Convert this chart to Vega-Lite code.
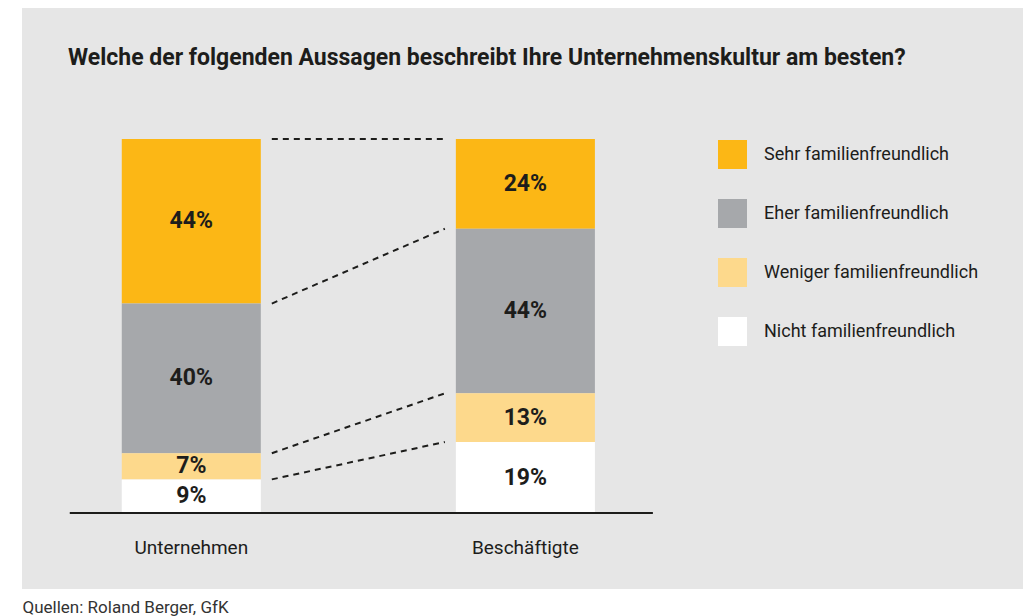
{
  "$schema": "https://vega.github.io/schema/vega-lite/v6.json",
  "width": 1001,
  "height": 581,
  "autosize": {"type": "none"},
  "padding": {"left": 22, "top": 8, "right": 0, "bottom": 27},
  "background": "#ffffff",
  "config": {"view": {"fill": "#e6e6e6", "stroke": null}, "font": "Roboto"},
  "title": {
    "text": "Welche der folgenden Aussagen beschreibt Ihre Unternehmenskultur am besten?",
    "anchor": "start",
    "frame": "group",
    "offset": 0,
    "dx": 46,
    "dy": 80,
    "baseline": "alphabetic",
    "fontSize": 23,
    "fontWeight": "bold",
    "font": "Roboto",
    "color": "#1d1d1b"
  },
  "datasets": {
    "shares": [
      {"group": "Unternehmen", "category": "Sehr familienfreundlich", "rank": 1, "value": 44},
      {"group": "Unternehmen", "category": "Eher familienfreundlich", "rank": 2, "value": 40},
      {"group": "Unternehmen", "category": "Weniger familienfreundlich", "rank": 3, "value": 7},
      {"group": "Unternehmen", "category": "Nicht familienfreundlich", "rank": 4, "value": 9},
      {"group": "Beschäftigte", "category": "Sehr familienfreundlich", "rank": 1, "value": 24},
      {"group": "Beschäftigte", "category": "Eher familienfreundlich", "rank": 2, "value": 44},
      {"group": "Beschäftigte", "category": "Weniger familienfreundlich", "rank": 3, "value": 13},
      {"group": "Beschäftigte", "category": "Nicht familienfreundlich", "rank": 4, "value": 19}
    ],
    "links": [
      {"from": "Unternehmen", "to": "Beschäftigte", "a": 100, "b": 100},
      {"from": "Unternehmen", "to": "Beschäftigte", "a": 56, "b": 76},
      {"from": "Unternehmen", "to": "Beschäftigte", "a": 16, "b": 32},
      {"from": "Unternehmen", "to": "Beschäftigte", "a": 9, "b": 19}
    ],
    "base": [
      {"from": "Unternehmen", "to": "Beschäftigte", "v": 0}
    ]
  },
  "layer": [
    {
      "data": {"name": "shares"},
      "transform": [
        {"stack": "value", "groupby": ["group"], "sort": [{"field": "rank", "order": "descending"}], "as": ["y0", "y1"]}
      ],
      "mark": {"type": "bar"},
      "encoding": {
        "x": {
          "field": "group",
          "type": "nominal",
          "sort": ["Unternehmen", "Beschäftigte"],
          "scale": {"domain": ["Unternehmen", "Beschäftigte"], "paddingInner": 0.5838, "paddingOuter": 0.79, "align": 0.189},
          "axis": {
            "title": "Quellen: Roland Berger, GfK",
            "titleAnchor": "start",
            "titleAlign": "left",
            "titleX": 0,
            "titleY": 18,
            "titleBaseline": "middle",
            "titleFontSize": 17,
            "titleFontWeight": "normal",
            "titleColor": "#333333",
            "titleFont": "Roboto",
            "domain": false,
            "ticks": false,
            "tickSize": 0,
            "grid": false,
            "labelPadding": -42,
            "labelBaseline": "middle",
            "labelAngle": 0,
            "labelFontSize": 19,
            "labelFont": "Roboto",
            "labelColor": "#1d1d1b"
          }
        },
        "y": {"field": "y0", "type": "quantitative", "scale": {"domain": [-20.3, 135], "nice": false, "zero": false}, "axis": null},
        "y2": {"field": "y1"},
        "color": {
          "field": "category",
          "type": "nominal",
          "scale": {
            "domain": ["Sehr familienfreundlich", "Eher familienfreundlich", "Weniger familienfreundlich", "Nicht familienfreundlich"],
            "range": ["#fcb715", "#a6a8ab", "#fdd98c", "#ffffff"]
          },
          "legend": {
            "title": null,
            "orient": "none",
            "legendX": 696,
            "legendY": 132,
            "padding": 0,
            "symbolType": "square",
            "symbolSize": 841,
            "symbolStrokeWidth": 0,
            "symbolOpacity": 1,
            "labelFontSize": 18,
            "labelFont": "Roboto",
            "labelColor": "#1d1d1b",
            "labelOffset": 17,
            "labelLimit": 0,
            "rowPadding": 30
          }
        }
      }
    },
    {
      "data": {"name": "shares"},
      "transform": [
        {"stack": "value", "groupby": ["group"], "sort": [{"field": "rank", "order": "descending"}], "as": ["y0", "y1"]},
        {"calculate": "(datum.y0 + datum.y1) / 2", "as": "mid"},
        {"calculate": "datum.value + '%'", "as": "label"}
      ],
      "mark": {"type": "text", "fontSize": 23, "fontWeight": "bold", "font": "Roboto", "color": "#1d1d1b", "baseline": "middle", "align": "center"},
      "encoding": {
        "x": {"field": "group", "type": "nominal", "sort": ["Unternehmen", "Beschäftigte"]},
        "y": {"field": "mid", "type": "quantitative", "axis": null},
        "text": {"field": "label", "type": "nominal"}
      }
    },
    {
      "data": {"name": "links"},
      "mark": {"type": "rule", "strokeDash": [6, 5], "strokeWidth": 2, "color": "#1d1d1b", "xOffset": 11, "x2Offset": -11},
      "encoding": {
        "x": {"field": "from", "type": "nominal", "sort": ["Unternehmen", "Beschäftigte"], "bandPosition": 1},
        "x2": {"field": "to", "bandPosition": 0},
        "y": {"field": "a", "type": "quantitative", "axis": null},
        "y2": {"field": "b"}
      }
    },
    {
      "data": {"name": "base"},
      "mark": {"type": "rule", "strokeWidth": 2, "color": "#1d1d1b"},
      "encoding": {
        "x": {"field": "from", "type": "nominal", "sort": ["Unternehmen", "Beschäftigte"], "bandPosition": -0.374},
        "x2": {"field": "to", "bandPosition": 1.417},
        "y": {"field": "v", "type": "quantitative", "axis": null}
      }
    }
  ]
}
